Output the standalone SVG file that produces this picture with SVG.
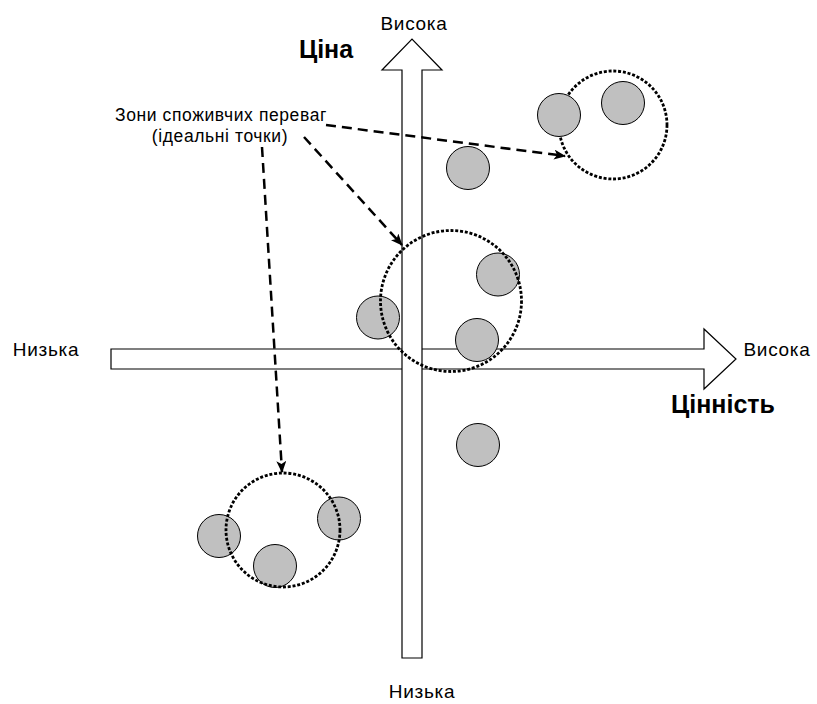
<svg xmlns="http://www.w3.org/2000/svg" width="817" height="704" viewBox="0 0 817 704">
<style>
.t{font-family:"Liberation Sans",Arial,sans-serif;font-size:19px;letter-spacing:0.7px;fill:#000}
.n{font-family:"Liberation Sans",Arial,sans-serif;font-size:17.5px;letter-spacing:0.6px;fill:#000}
.b{font-family:"Liberation Sans",Arial,sans-serif;font-size:25px;font-weight:bold;fill:#000}
.ax{fill:#fff;stroke:#000;stroke-width:1.2}
.pt{fill:#c0c0c0;stroke:#000;stroke-width:1}
.zone{fill:none;stroke:#000;stroke-width:2.8;stroke-dasharray:3 1.8}
.con{fill:none;stroke:#000;stroke-width:2.5;stroke-dasharray:10 6}
</style>
<defs>
<marker id="ah" viewBox="0 0 12 10" refX="11" refY="5" markerWidth="12" markerHeight="10" markerUnits="userSpaceOnUse" orient="auto">
<path d="M0,0 L12,5 L0,10 L3,5 Z" fill="#000"/>
</marker>
</defs>
<rect width="817" height="704" fill="#fff"/>
<g id="axis-x"><polygon class="ax" points="111,349 704,349 704,329 736,359 704,389 704,369 111,369"/></g>
<g id="axis-y"><polygon class="ax" points="402,658 402,70 382,70 412,39 442,70 422,70 422,658"/></g>
<g id="labels">
<text class="t" x="414" y="30" text-anchor="middle">Висока</text>
<text class="b" x="326" y="58" text-anchor="middle">Ціна</text>
<text class="t" x="46" y="356" text-anchor="middle">Низька</text>
<text class="t" x="777" y="356" text-anchor="middle">Висока</text>
<text class="b" x="723" y="413" text-anchor="middle">Цінність</text>
<text class="t" x="422" y="698" text-anchor="middle">Низька</text>
</g>
<g id="note">
<text class="n" x="221" y="121" text-anchor="middle">Зони споживчих переваг</text>
<text class="n" x="220" y="142" text-anchor="middle">(ідеальні точки)</text>
</g>
<g id="zone-top">
<circle class="zone" cx="613" cy="125" r="54"/>
<circle class="pt" cx="559" cy="115" r="21.5"/>
<circle class="pt" cx="623" cy="103" r="21.5"/>
</g>
<g id="point-a"><circle class="pt" cx="468" cy="168" r="21.5"/></g>
<g id="zone-mid">
<circle class="pt" cx="378" cy="317.5" r="21.5"/>
<circle class="pt" cx="498" cy="274.5" r="21.5"/>
<circle class="pt" cx="477" cy="340" r="21.5"/>
<circle class="zone" cx="451" cy="301" r="70.5"/>
</g>
<g id="point-b"><circle class="pt" cx="478" cy="445" r="21.5"/></g>
<g id="zone-low">
<circle class="pt" cx="219" cy="536" r="21.5"/>
<circle class="pt" cx="339" cy="518.5" r="21.5"/>
<circle class="pt" cx="275" cy="566" r="21.5"/>
<circle class="zone" cx="283" cy="530" r="57"/>
</g>
<g id="connectors">
<line class="con" x1="326" y1="125" x2="565" y2="156" marker-end="url(#ah)"/>
<line class="con" x1="304" y1="137" x2="402" y2="245" marker-end="url(#ah)"/>
<line class="con" x1="262" y1="147" x2="282" y2="472" marker-end="url(#ah)"/>
</g>
</svg>
